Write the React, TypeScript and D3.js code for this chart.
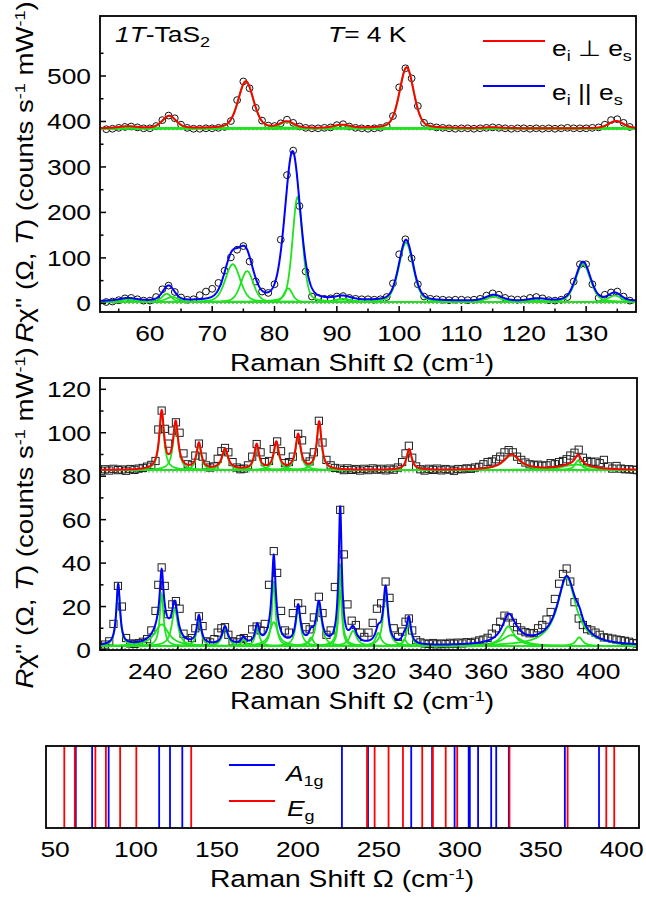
import React from "react";
import * as d3 from "d3";

const FONT = "'Liberation Sans', Arial, Helvetica, sans-serif";
const SX = 1.2;
const RED = "#ff0000";
const BLUE = "#0000ff";
const GREEN = "#1ee41e";
const TICK_SIZE = 22;

// ---------------- Top panel: 52–138 cm^-1 ----------------
const TOP_X = [
  53, 54, 55, 56, 57, 58, 59, 60, 61, 62,
  63, 64, 65, 66, 67, 68, 69, 70, 71, 72,
  73, 74, 75, 76, 77, 78, 79, 80, 81, 82,
  83, 84, 85, 86, 87, 88, 89, 90, 91, 92,
  93, 94, 95, 96, 97, 98, 99, 100, 101, 102,
  103, 104, 105, 106, 107, 108, 109, 110, 111, 112,
  113, 114, 115, 116, 117, 118, 119, 120, 121, 122,
  123, 124, 125, 126, 127, 128, 129, 130, 131, 132,
  133, 134, 135, 136, 137,
];
// e_i ⊥ e_s (offset data, circles)
const TOP_PERP = [
  383, 384, 386, 388, 389, 387, 385, 385, 390, 403,
  413, 407, 393, 386, 384, 384, 385, 385, 386, 388,
  401, 447, 488, 473, 430, 402, 391, 390, 396, 404,
  397, 389, 386, 385, 385, 386, 387, 392, 394, 389,
  386, 385, 384, 385, 386, 390, 412, 475, 517, 495,
  434, 397, 389, 387, 386, 385, 384, 385, 385, 384,
  385, 386, 387, 386, 385, 384, 385, 385, 384, 385,
  384, 385, 384, 385, 386, 385, 385, 385, 386, 387,
  393, 403, 405, 397, 388,
];
// e_i || e_s (circles)
const TOP_PAR = [
  3, 4, 7, 11, 12, 9, 6, 6, 14, 31,
  39, 25, 13, 8, 9, 18, 26, 32, 45, 72,
  101, 118, 126, 92, 48, 26, 23, 42, 140, 282,
  336, 214, 70, 15, 12, 10, 11, 15, 16, 12,
  10, 9, 9, 8, 9, 14, 44, 108, 141, 99,
  42, 15, 10, 9, 8, 7, 8, 8, 7, 8,
  10, 17, 22, 19, 12, 9, 8, 9, 12, 14,
  11, 7, 6, 8, 14, 48, 86, 86, 42, 12,
  19, 24, 26, 15, 6,
];
// fitted peaks: [centre, height, half width]
const TOP_PERP_BASE = 385;
const TOP_PERP_PEAKS = [
  [56.5, 4, 1.8], [63.1, 27, 1.3], [75.4, 103, 1.45], [82.0, 14, 1.3],
  [90.8, 7, 1.5], [101.2, 134, 1.35], [115.0, 2, 1.5], [134.8, 16, 1.4],
];
const TOP_PAR_BASE = 5;
const TOP_PAR_PEAKS = [
  [56.5, 6, 1.6], [63.0, 33, 1.1], [73.1, 88, 1.4], [75.4, 98, 1.4],
  [82.9, 328, 1.45], [91.0, 8, 1.5], [101.1, 134, 1.35], [115.2, 13, 1.5],
  [122.2, 5, 1.5], [129.5, 86, 1.4], [134.6, 17, 1.2],
];
const TOP_PAR_COMP_BASE = 3;
const TOP_PAR_COMPONENTS = [
  [56.5, 5, 1.6], [62.7, 18, 0.9], [63.6, 11, 1.2], [73.3, 83, 1.4],
  [75.6, 68, 1.2], [82.2, 30, 0.8], [83.7, 231, 0.95], [91.0, 7, 1.5],
  [101.1, 130, 1.35], [115.2, 11, 1.5], [122.2, 4, 1.5], [129.5, 83, 1.4],
  [134.6, 14, 1.2],
];
const TOP_PERP_ZERO = 382;
const TOP_Y_MAJOR = [0, 100, 200, 300, 400, 500];
const TOP_Y_MINOR = [50, 150, 250, 350, 450, 550];
const TOP_X_MAJOR = [60, 70, 80, 90, 100, 110, 120, 130];
const TOP_X_MINOR = [55, 65, 75, 85, 95, 105, 115, 125, 135];

// ---------------- Middle panel: 222–414 cm^-1 ----------------
const MID_X = [
  222.5, 224, 225.5, 227, 228.6, 230, 231.5, 233, 234.5, 236,
  237.5, 239, 240.5, 242, 243, 244.2, 245.3, 246.5, 248, 249.3,
  250.6, 252, 253.5, 255, 256.2, 257.5, 258.8, 260, 261.5, 263,
  264.2, 265.5, 266.8, 268, 269.5, 271, 272.3, 273.5, 275, 276.5,
  278.1, 279.5, 281, 282.5, 284.2, 285.4, 286.8, 288.2, 289.6, 291,
  292.9, 294.3, 295.6, 297, 298.5, 300.3, 301.6, 303, 304.5, 306,
  307.9, 309.2, 310.5, 312, 313.5, 315, 316.5, 318, 319.5, 321,
  322.5, 324.1, 325.5, 327, 328.5, 330, 331.2, 332.4, 333.6, 335,
  336.5, 338, 339.5, 341, 342.5, 344, 345.5, 347, 348.5, 350,
  351.5, 353, 354.5, 356, 357.5, 359, 360.5, 362, 363.5, 365,
  366.5, 368, 369.5, 371, 372.5, 374, 375.5, 377, 378.5, 380,
  381.5, 383, 384.5, 386, 387.4, 388.7, 390, 391.5, 393, 394.5,
  396, 397.5, 399, 400.5, 402, 403.5, 405, 406.5, 408, 409.5,
  411, 412.5, 413.8,
];
const MID_PERP = [
  82.5, 83.2, 82.6, 83.4, 82.8, 83.1, 82.5, 83.3, 82.9, 83.5,
  83.8, 84.4, 85.2, 87.0, 101.5, 110.2, 101.8, 95.0, 101.0, 104.8,
  100.0, 90.5, 85.5, 85.0, 89.5, 95.0, 89.0, 85.0, 84.0, 84.5,
  88.0, 91.5, 93.0, 91.0, 86.5, 84.0, 83.2, 83.5, 85.0, 89.0,
  94.8, 91.0, 86.5, 87.0, 92.5, 96.0, 91.5, 86.0, 86.5, 89.0,
  99.5, 96.5, 89.0, 86.8, 91.0, 105.5, 95.5, 87.5, 85.0, 83.8,
  83.5, 82.8, 83.6, 82.9, 83.3, 82.6, 83.4, 82.8, 83.6, 83.0,
  83.4, 82.7, 83.5, 83.0, 84.0, 86.5, 90.5, 94.0, 88.5, 84.5,
  83.2, 82.6, 83.4, 82.9, 83.5, 82.7, 83.3, 83.0, 82.5, 83.3,
  83.2, 83.6, 83.4, 84.0, 84.3, 85.5, 86.5, 86.8, 87.8, 89.0,
  91.0, 92.0, 91.0, 89.0, 87.5, 86.3, 85.5, 85.0, 85.3, 84.8,
  85.0, 86.0, 85.5, 86.5, 87.0, 87.8, 89.5, 90.8, 92.2, 88.5,
  87.0, 86.5, 86.7, 86.0, 87.5, 84.5, 83.5, 84.7, 83.5, 83.2,
  83.2, 83.0, 82.8,
];
const MID_PAR = [
  1.5, 2.5, 4.0, 12.0, 29.5, 20.0, 5.5, 3.0, 2.8, 3.2,
  3.8, 5.0, 9.0, 18.0, 30.0, 38.0, 29.5, 16.5, 21.0, 22.5,
  19.0, 7.5, 4.5, 5.5, 10.0, 15.5, 11.0, 4.0, 3.5, 5.0,
  8.0, 10.0, 10.5, 7.0, 4.0, 3.5, 5.0, 5.5, 4.5, 9.5,
  10.8, 9.0, 12.0, 30.0, 45.5, 35.5, 18.0, 9.0, 8.0, 17.0,
  21.5, 18.5, 10.5, 9.5, 15.0, 24.5, 17.0, 7.0, 9.0, 29.0,
  64.5, 44.0, 21.0, 13.5, 11.5, 8.0, 6.0, 8.0, 12.5, 19.0,
  21.5, 31.5, 24.0, 10.0, 6.0, 8.5, 13.0, 14.5, 9.0, 4.5,
  3.5, 3.0, 2.8, 3.2, 2.6, 3.0, 2.7, 3.3, 2.9, 3.4,
  3.0, 3.6, 3.2, 3.8, 4.4, 4.8, 5.6, 7.5, 10.0, 13.0,
  15.8, 15.0, 12.5, 10.5, 9.0, 8.2, 7.7, 7.8, 10.0, 11.5,
  14.0, 17.5, 23.5, 30.5, 35.0, 37.5, 31.5, 22.0, 14.5, 11.5,
  9.6, 9.0, 8.0, 7.0, 5.8, 5.6, 5.2, 4.8, 4.5, 4.2,
  3.8, 3.2, 3.0,
];
const MID_PERP_BASE = 82.8;
const MID_PERP_PEAKS = [
  [244.2, 26.5, 1.0], [249.2, 21.5, 1.1], [257.5, 12, 1.0], [266.8, 9.5, 1.3],
  [278.1, 11.5, 1.0], [285.1, 12.5, 1.1], [292.9, 16, 1.1], [300.4, 22, 1.0],
  [332.5, 9.5, 1.1], [369.1, 7, 3.5], [392.8, 4.5, 1.3], [392.0, 2.5, 6],
];
const MID_PAR_BASE = 1.8;
const MID_PAR_PEAKS = [
  [228.7, 28, 0.8], [244.2, 24, 0.8], [244.2, 10, 3.0], [248.9, 17, 1.3],
  [257.5, 13, 0.9], [266.8, 8.3, 1.2], [273.4, 3, 1.0], [278.3, 8.5, 0.9],
  [284.2, 30, 0.75], [284.2, 11, 1.8], [292.9, 17.5, 1.0], [297.5, 4, 1.0],
  [300.3, 19, 1.2], [307.9, 25, 0.9], [307.9, 38, 0.55], [312.5, 7, 1.5],
  [321.5, 6, 1.2], [324.1, 26, 1.0], [330.8, 3, 1.0], [332.4, 12, 0.9],
  [367.9, 9, 2.5], [369.0, 5, 4.0], [388.7, 31.5, 4.0], [393.2, 4, 1.5],
];
const MID_PERP_ZERO = 82;
const MID_Y_MAJOR = [0, 20, 40, 60, 80, 100, 120];
const MID_Y_MINOR = [10, 30, 50, 70, 90, 110];
const MID_X_MAJOR = [240, 260, 280, 300, 320, 340, 360, 380, 400];
const MID_X_MINOR = [230, 250, 270, 290, 310, 330, 350, 370, 390, 410];

// ---------------- Bottom panel: mode positions ----------------
const A1G_MODES = [
  62.8, 72.9, 83.1, 114.3, 121.0, 128.6, 227.2, 243.3, 270.0, 282.9,
  296.8, 305.5, 306.2, 311.3, 319.4, 322.5, 330.3, 364.9, 386.0,
];
const EG_MODES = [
  55.7, 62.2, 74.9, 81.4, 90.2, 100.2, 134.1, 242.7, 247.4, 256.0,
  264.9, 276.8, 283.4, 291.3, 298.4, 330.7, 366.6, 390.5, 395.4,
];
const BOT_X_TICKS = [50, 100, 150, 200, 250, 300, 350, 400];

// ---------------- helpers ----------------
function profile(x: number, p: number[], eta: number) {
  const u = (x - p[0]) / p[2];
  return p[1] * (eta / (1 + u * u) + (1 - eta) * Math.exp(-Math.LN2 * u * u));
}
function curve(lo: number, hi: number, step: number, base: number, peaks: number[][], eta: number) {
  return d3.range(lo, hi + step, step).map((x) => [x, base + peaks.reduce((s, p) => s + profile(x, p, eta), 0)] as [number, number]);
}

function Txt({ x, y, size = TICK_SIZE, anchor = "middle", rot = 0, italic = false, children }: any) {
  return (
    <text
      transform={`translate(${x},${y}) rotate(${rot}) scale(${SX},1)`}
      fontSize={size}
      fontFamily={FONT}
      textAnchor={anchor}
      fontStyle={italic ? "italic" : "normal"}
      fill="#000"
    >
      {children}
    </text>
  );
}

function YTitle({ x, y }: { x: number; y: number }) {
  return (
    <Txt x={x} y={y} rot={-90} size={23}>
      <tspan fontStyle="italic">R</tspan>χ'' (Ω, <tspan fontStyle="italic">T</tspan>) (counts s
      <tspan dy={-8} fontSize={15}>-1</tspan>
      <tspan dy={8}> mW</tspan>
      <tspan dy={-8} fontSize={15}>-1</tspan>
      <tspan dy={8}>)</tspan>
    </Txt>
  );
}
function XTitle({ x, y }: { x: number; y: number }) {
  return (
    <Txt x={x} y={y} size={23.5}>
      Raman Shift Ω (cm<tspan dy={-8} fontSize={15}>-1</tspan>
      <tspan dy={8}>)</tspan>
    </Txt>
  );
}

function Axes({ xs, ys, xMajor, xMinor, yMajor, yMinor }: any) {
  const [x0, x1] = xs.range();
  const [y0, y1] = ys.range(); // y0 bottom, y1 top
  return (
    <g>
      <rect x={x0} y={y1} width={x1 - x0} height={y0 - y1} fill="none" stroke="#000" strokeWidth={1.8} />
      {xMajor.map((v: number) => (
        <g key={"xM" + v}>
          <line x1={xs(v)} x2={xs(v)} y1={y0} y2={y0 - 6} stroke="#000" strokeWidth={1.5} />
          <Txt x={xs(v)} y={y0 + 29}>{v}</Txt>
        </g>
      ))}
      {xMinor.map((v: number) => (
        <line key={"xm" + v} x1={xs(v)} x2={xs(v)} y1={y0} y2={y0 - 3.5} stroke="#000" strokeWidth={1.5} />
      ))}
      {yMajor.map((v: number) => (
        <g key={"yM" + v}>
          <line x1={x0} x2={x0 + 6} y1={ys(v)} y2={ys(v)} stroke="#000" strokeWidth={1.5} />
          <Txt x={x0 - 9} y={ys(v) + 8} anchor="end">{v}</Txt>
        </g>
      ))}
      {yMinor.map((v: number) => (
        <line key={"ym" + v} x1={x0} x2={x0 + 3.5} y1={ys(v)} y2={ys(v)} stroke="#000" strokeWidth={1.5} />
      ))}
    </g>
  );
}

export default function App() {
  const topX = d3.scaleLinear().domain([52, 138]).range([100, 636]);
  const topY = d3.scaleLinear().domain([-19, 632]).range([312, 16]);
  const midX = d3.scaleLinear().domain([222.2, 413.8]).range([100, 637]);
  const midY = d3.scaleLinear().domain([0, 125.2]).range([650, 378]);
  const botX = d3.scaleLinear().domain([44.4, 410.7]).range([46, 639]);

  const topLine = d3.line<[number, number]>().x((d) => topX(d[0])).y((d) => topY(d[1]));
  const midLine = d3.line<[number, number]>().x((d) => midX(d[0])).y((d) => midY(d[1]));

  const ETA_TOP = 0.3;
  const ETA_MID = 1.0;

  const topPerpFit = curve(52, 138, 0.05, TOP_PERP_BASE, TOP_PERP_PEAKS, ETA_TOP);
  const topParFit = curve(52, 138, 0.05, TOP_PAR_BASE, TOP_PAR_PEAKS, ETA_TOP);
  const topPerpComps = TOP_PERP_PEAKS.map((p) => curve(52, 138, 0.1, TOP_PERP_BASE, [p], ETA_TOP));
  const topParComps = TOP_PAR_COMPONENTS.map((p) => curve(52, 138, 0.1, TOP_PAR_COMP_BASE, [p], ETA_TOP));

  const midPerpFit = curve(222.2, 413.8, 0.05, MID_PERP_BASE, MID_PERP_PEAKS, ETA_MID);
  const midParFit = curve(222.2, 413.8, 0.05, MID_PAR_BASE, MID_PAR_PEAKS, ETA_MID);
  const midPerpComps = MID_PERP_PEAKS.map((p) => curve(222.2, 413.8, 0.1, MID_PERP_BASE, [p], ETA_MID));
  const midParComps = MID_PAR_PEAKS.map((p) => curve(222.2, 413.8, 0.1, MID_PAR_BASE, [p], ETA_MID));

  const [tx0, tx1] = topX.range();
  const [ty0, ty1] = topY.range();
  const [mx0, mx1] = midX.range();
  const [my0, my1] = midY.range();

  return (
    <svg width={646} height={897} style={{ position: "absolute", left: 0, top: 0, background: "#fff" }}>
      <defs>
        <clipPath id="clipTop">
          <rect x={tx0} y={ty1} width={tx1 - tx0} height={ty0 - ty1} />
        </clipPath>
        <clipPath id="clipMid">
          <rect x={mx0} y={my1} width={mx1 - mx0} height={my0 - my1} />
        </clipPath>
      </defs>
      <rect x={0} y={0} width={646} height={897} fill="#fff" />

      {/* ---------- top panel ---------- */}
      <g clipPath="url(#clipTop)">
        <line x1={tx0} x2={tx1} y1={topY(TOP_PERP_ZERO)} y2={topY(TOP_PERP_ZERO)} stroke="#aaa" strokeWidth={1.2} strokeDasharray="2,2" />
        <line x1={tx0} x2={tx1} y1={topY(0)} y2={topY(0)} stroke="#aaa" strokeWidth={1.2} strokeDasharray="2,2" />
        {TOP_X.map((x, i) => (
          <circle key={"cp" + i} cx={topX(x)} cy={topY(TOP_PERP[i])} r={3.4} fill="none" stroke="#111" strokeWidth={1} />
        ))}
        {TOP_X.map((x, i) => (
          <circle key={"cq" + i} cx={topX(x)} cy={topY(TOP_PAR[i])} r={3.4} fill="none" stroke="#111" strokeWidth={1} />
        ))}
        {topPerpComps.map((c, i) => (
          <path key={"tpc" + i} d={topLine(c) || ""} fill="none" stroke={GREEN} strokeWidth={1.8} />
        ))}
        {topParComps.map((c, i) => (
          <path key={"tqc" + i} d={topLine(c) || ""} fill="none" stroke={GREEN} strokeWidth={1.8} />
        ))}
        <path d={topLine(topPerpFit) || ""} fill="none" stroke={RED} strokeWidth={2} />
        <path d={topLine(topParFit) || ""} fill="none" stroke={BLUE} strokeWidth={2} />
      </g>
      <Axes xs={topX} ys={topY} xMajor={TOP_X_MAJOR} xMinor={TOP_X_MINOR} yMajor={TOP_Y_MAJOR} yMinor={TOP_Y_MINOR} />
      <Txt x={115} y={42} size={22} anchor="start">
        <tspan fontStyle="italic">1T</tspan>-TaS<tspan dy={5} fontSize={15}>2</tspan>
      </Txt>
      <Txt x={328} y={42} size={22} anchor="start">
        <tspan fontStyle="italic">T</tspan>= 4 K
      </Txt>
      <line x1={483} x2={545} y1={41} y2={41} stroke={RED} strokeWidth={2} />
      <Txt x={552} y={56} size={22} anchor="start">
        e<tspan dy={5} fontSize={15}>i</tspan><tspan dy={-5}> ⊥ e</tspan><tspan dy={5} fontSize={15}>s</tspan>
      </Txt>
      <line x1={483} x2={545} y1={86} y2={86} stroke={BLUE} strokeWidth={2} />
      <Txt x={552} y={100} size={22} anchor="start">
        e<tspan dy={5} fontSize={15}>i</tspan><tspan dy={-5}> || e</tspan><tspan dy={5} fontSize={15}>s</tspan>
      </Txt>
      <XTitle x={362} y={371} />
      <YTitle x={33} y={172} />

      {/* ---------- middle panel ---------- */}
      <g clipPath="url(#clipMid)">
        <line x1={mx0} x2={mx1} y1={midY(MID_PERP_ZERO)} y2={midY(MID_PERP_ZERO)} stroke="#aaa" strokeWidth={1.2} strokeDasharray="2,2" />
        <line x1={mx0} x2={mx1} y1={midY(0) - 1} y2={midY(0) - 1} stroke="#555" strokeWidth={1.2} strokeDasharray="2,2" />
        {MID_X.map((x, i) => (
          <rect key={"sp" + i} x={midX(x) - 3.6} y={midY(MID_PERP[i]) - 3.6} width={7.2} height={7.2} fill="none" stroke="#222" strokeWidth={1} />
        ))}
        {MID_X.map((x, i) => (
          <rect key={"sq" + i} x={midX(x) - 3.6} y={midY(MID_PAR[i]) - 3.6} width={7.2} height={7.2} fill="none" stroke="#222" strokeWidth={1} />
        ))}
        {midPerpComps.map((c, i) => (
          <path key={"mpc" + i} d={midLine(c) || ""} fill="none" stroke={GREEN} strokeWidth={1.8} />
        ))}
        {midParComps.map((c, i) => (
          <path key={"mqc" + i} d={midLine(c) || ""} fill="none" stroke={GREEN} strokeWidth={1.8} />
        ))}
        <path d={midLine(midPerpFit) || ""} fill="none" stroke={RED} strokeWidth={2} />
        <path d={midLine(midParFit) || ""} fill="none" stroke={BLUE} strokeWidth={2} />
      </g>
      <Axes xs={midX} ys={midY} xMajor={MID_X_MAJOR} xMinor={MID_X_MINOR} yMajor={MID_Y_MAJOR} yMinor={MID_Y_MINOR} />
      <XTitle x={362} y={709} />
      <YTitle x={33} y={518} />

      {/* ---------- bottom panel ---------- */}
      {A1G_MODES.map((v, i) => (
        <line key={"a" + i} x1={botX(v)} x2={botX(v)} y1={746} y2={828} stroke={BLUE} strokeWidth={1.8} />
      ))}
      {EG_MODES.map((v, i) => (
        <line key={"e" + i} x1={botX(v)} x2={botX(v)} y1={746} y2={828} stroke={RED} strokeWidth={1.8} />
      ))}
      <rect x={46} y={746} width={593} height={82} fill="none" stroke="#000" strokeWidth={1.8} />
      {BOT_X_TICKS.map((v) => (
        <Txt key={"bt" + v} x={botX(v)} y={857}>{v}</Txt>
      ))}
      <line x1={229} x2={275} y1={765} y2={765} stroke={BLUE} strokeWidth={2} />
      <Txt x={286} y={781} size={22} anchor="start">
        <tspan fontStyle="italic">A</tspan><tspan dy={5} fontSize={15}>1g</tspan>
      </Txt>
      <line x1={229} x2={275} y1={801} y2={801} stroke={RED} strokeWidth={2} />
      <Txt x={287} y={816} size={22} anchor="start">
        <tspan fontStyle="italic">E</tspan><tspan dy={5} fontSize={15}>g</tspan>
      </Txt>
      <XTitle x={342} y={887} />
    </svg>
  );
}
